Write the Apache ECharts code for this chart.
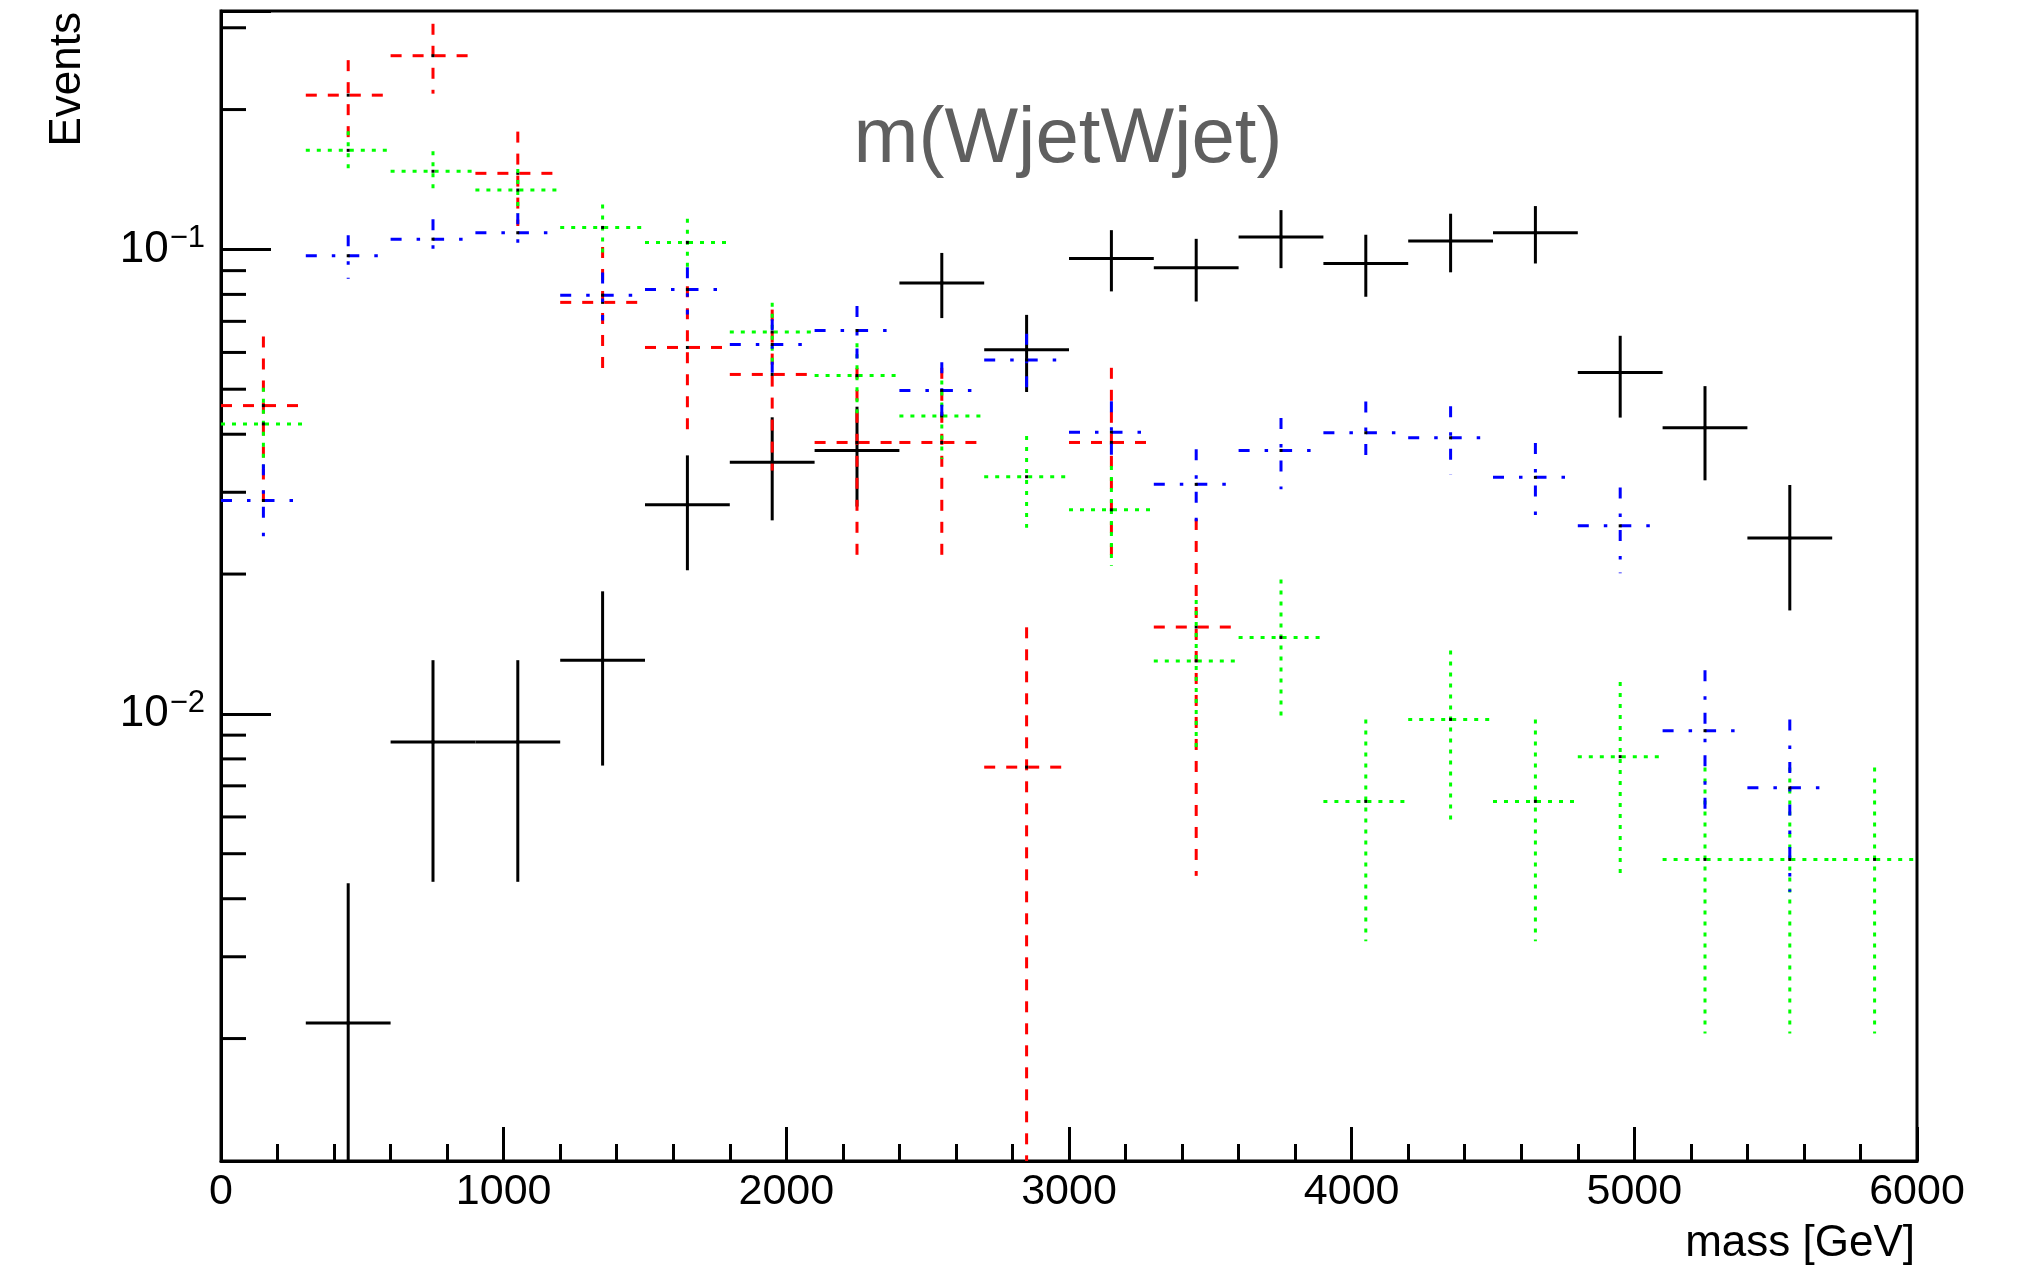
<!DOCTYPE html>
<html><head><meta charset="utf-8">
<script src="https://cdn.jsdelivr.net/npm/echarts@6/dist/echarts.min.js"></script>
<style>html,body{margin:0;padding:0;background:#fff}#c{width:2034px;height:1274px}</style>
</head><body><div id="c"></div><script>
// ---- data ----
const binCenters = [150,450,750,1050,1350,1650,1950,2250,2550,2850,3150,3450,3750,4050,4350,4650,4950,5250,5550,5850];
const BIN_WIDTH = 300;

const blackVals = [null,0.00216,0.0087,0.0087,0.01305,0.0282,0.0348,0.0369,0.0847,0.0608,0.0956,0.0913,0.1063,0.0933,0.1043,0.1086,0.0543,0.0413,0.0239,null];
const blackErrs = [null,0.00216,0.00435,0.00435,0.00531,0.00782,0.00870,0.00895,0.01356,0.01148,0.0144,0.01407,0.01519,0.01423,0.01504,0.01535,0.01086,0.00947,0.0072,null];

const redVals = [0.0461,0.2148,0.2612,0.1458,0.0769,0.0615,0.0538,0.0384,0.0384,0.00768,0.0384,0.01538,null,null,null,null,null,null,null,null];
const redErrs = [0.01884,0.0407,0.0448,0.0335,0.0243,0.0218,0.0204,0.0172,0.0172,0.00768,0.0172,0.0109,null,null,null,null,null,null,null,null];

const greenVals = [0.0421,0.1634,0.1473,0.1342,0.1115,0.1035,0.0664,0.0535,0.0438,0.0324,0.0275,0.0130,0.0146,0.00648,0.00973,0.00648,0.00809,0.00486,0.00486,0.00486];
const greenErrs = [0.00826,0.01627,0.01545,0.01474,0.01344,0.01295,0.01037,0.00931,0.00842,0.00724,0.00667,0.00459,0.00486,0.00324,0.00397,0.00324,0.00362,0.00281,0.00281,0.00281];

const blueVals = [0.0288,0.0969,0.1052,0.1086,0.0797,0.0820,0.0624,0.0669,0.0497,0.0578,0.0404,0.0312,0.0369,0.0403,0.0393,0.0323,0.0254,0.0092,0.00693,null];
const blueErrs = [0.00568,0.01042,0.01085,0.01103,0.00945,0.00958,0.00836,0.00866,0.00746,0.00805,0.00673,0.00591,0.00643,0.00672,0.00663,0.00601,0.00533,0.00321,0.00279,null];

const xTickLabels = [0,1000,2000,3000,4000,5000,6000];
const yMinorTicks = [0.002,0.003,0.004,0.005,0.006,0.007,0.008,0.009,0.02,0.03,0.04,0.05,0.06,0.07,0.08,0.09,0.2,0.3];

const X_MIN = 0, X_MAX = 6000, Y_MIN = 0.00109, Y_MAX = 0.326;
const FONT = '"Liberation Sans", Arial, Helvetica, sans-serif';

// ---- chart ----
const chart = echarts.init(document.getElementById('c'), null, {renderer: 'canvas'});

function crossSeries(name, vals, errs, color, dash, width, z) {
  const data = [];
  binCenters.forEach((x, i) => { if (vals[i] != null) data.push([x, vals[i], errs[i]]); });
  return {
    type: 'custom', name: name, data: data, z: z, silent: true, clip: true,
    dimensions: ['x', 'y', 'err'],
    encode: {x: 0, y: 1},
    renderItem: function (params, api) {
      const x = api.value(0), v = api.value(1), e = api.value(2);
      const half = BIN_WIDTH / 2;
      const l = api.coord([x - half, v]);
      const r = api.coord([x + half, v]);
      const t = api.coord([x, Math.min(v + e, Y_MAX)]);
      const b = api.coord([x, Math.max(v - e, Y_MIN)]);
      const c = api.coord([x, v]);
      const st = {stroke: color, lineWidth: width, lineDash: dash, fill: null, lineCap: 'butt'};
      return {type: 'group', children: [
        {type: 'line', shape: {x1: l[0], y1: l[1], x2: r[0], y2: r[1]}, style: st},
        {type: 'line', shape: {x1: t[0], y1: t[1], x2: b[0], y2: b[1]}, style: st},
        {type: 'rect', shape: {x: c[0] - 1.5, y: c[1] - 1.5, width: 3, height: 3}, style: {fill: '#000'}}
      ]};
    }
  };
}

const minorTickSeries = {
  type: 'custom', name: 'yMinorTicks', silent: true, z: 10, clip: false,
  data: yMinorTicks.map(v => [X_MIN, v]),
  renderItem: function (params, api) {
    const p = api.coord([api.value(0), api.value(1)]);
    return {type: 'line', shape: {x1: p[0], y1: p[1], x2: p[0] + 25, y2: p[1]},
      style: {stroke: '#000', lineWidth: 3}};
  }
};

const option = {
  backgroundColor: '#fff',
  animation: false,
  grid: {left: 221, right: 117, top: 11, bottom: 113, show: true, borderColor: '#000', borderWidth: 3, backgroundColor: 'transparent'},
  xAxis: {
    type: 'value', min: X_MIN, max: X_MAX, interval: 1000,
    axisLine: {show: true, lineStyle: {color: '#000', width: 3}},
    axisTick: {show: true, inside: true, length: 34, lineStyle: {color: '#000', width: 3}},
    minorTick: {show: true, splitNumber: 5, length: 17, lineStyle: {color: '#000', width: 3}},
    splitLine: {show: false},
    axisLabel: {
      color: '#000', fontSize: 43, fontFamily: FONT, margin: 10,
      formatter: function (v) { return xTickLabels.indexOf(v) >= 0 ? String(v) : ''; }
    }
  },
  yAxis: {
    type: 'log', logBase: 10, min: Y_MIN, max: Y_MAX,
    axisLine: {show: true, lineStyle: {color: '#000', width: 3}},
    axisTick: {show: true, inside: true, length: 50, lineStyle: {color: '#000', width: 3}},
    minorTick: {show: false},
    splitLine: {show: false},
    axisLabel: {
      margin: 16,
      formatter: function (v) {
        const lg = Math.log10(v), k = Math.round(lg);
        if (Math.abs(lg - k) > 1e-6) return '';
        return '{b|10}{s|' + (k < 0 ? '\u2212' : '') + Math.abs(k) + '}';
      },
      rich: {
        b: {fontSize: 44, fontFamily: FONT, color: '#000', lineHeight: 52},
        s: {fontSize: 31, fontFamily: FONT, color: '#000', verticalAlign: 'top', lineHeight: 31, padding: [0, 0, 0, 1]}
      }
    }
  },
  graphic: [
    {type: 'text', x: 1068, y: 140, z: 20, silent: true,
      style: {text: 'm(WjetWjet)', font: '78px ' + FONT, fill: '#5f5f5f', align: 'center', verticalAlign: 'middle'}},
    {type: 'text', x: 1915, y: 1244, z: 20, silent: true,
      style: {text: 'mass [GeV]', font: '44px ' + FONT, fill: '#000', align: 'right', verticalAlign: 'middle'}},
    {type: 'text', x: 68, y: 12, rotation: Math.PI / 2, z: 20, silent: true,
      style: {text: 'Events', font: '44px ' + FONT, fill: '#000', align: 'right', verticalAlign: 'middle'}}
  ],
  series: [
    crossSeries('black', blackVals, blackErrs, '#000000', null, 3, 2),
    crossSeries('red', redVals, redErrs, '#ff0000', [11, 11], 3, 3),
    crossSeries('green', greenVals, greenErrs, '#00ff00', [4, 7], 3, 4),
    crossSeries('blue', blueVals, blueErrs, '#0000ff', [11, 15, 3.5, 13], 3, 5),
    minorTickSeries
  ]
};
chart.setOption(option);
</script></body></html>
